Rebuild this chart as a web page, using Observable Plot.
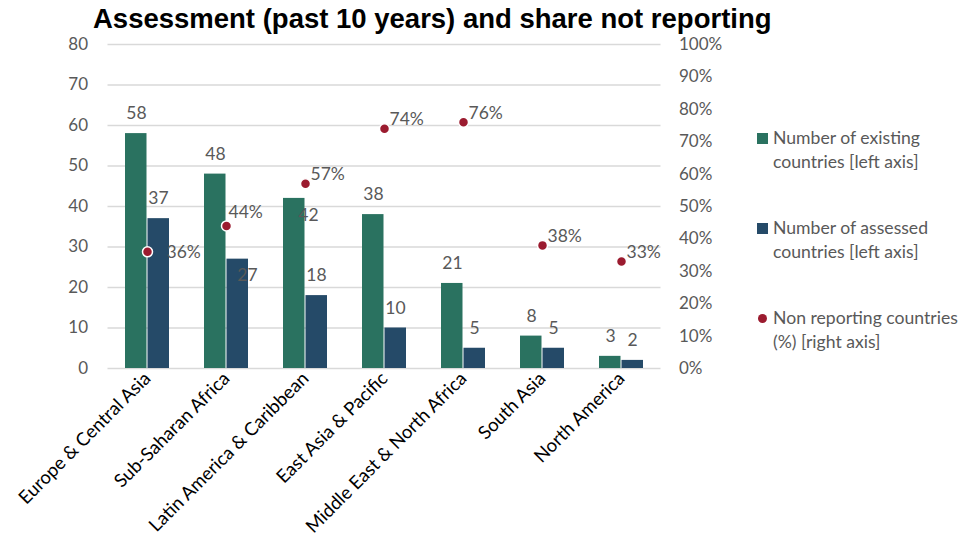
<!DOCTYPE html>
<html>
<head>
<meta charset="utf-8">
<script src="https://cdn.jsdelivr.net/npm/d3@7"></script>
<script src="https://cdn.jsdelivr.net/npm/@observablehq/plot@0.6"></script>
<style>
  html, body { margin: 0; padding: 0; background: #fff; }
  #wrap { position: relative; width: 968px; height: 546px; overflow: hidden; }
  #title { position: absolute; left: 93px; top: 3px; font-family: "Liberation Sans", Arial, sans-serif; font-weight: bold; font-size: 27.5px; color: #000; white-space: nowrap; }
  #legend { position: absolute; left: 757px; top: 126px; font-family: Lato, sans-serif; font-size: 17.6px; color: #595959; line-height: 24px; }
  .item { position: relative; padding-left: 16px; height: 48px; margin-bottom: 42px; white-space: nowrap; }
  .sw { position: absolute; left: 0; top: 7px; width: 11px; height: 11px; }
  .dotsw { position: absolute; left: 1px; top: 8px; width: 9px; height: 9px; border-radius: 50%; }
</style>
</head>
<body>
<div id="wrap">
  <div id="chart"></div>
  <div id="title">Assessment (past 10 years) and share not reporting</div>
  <div id="legend"></div>
</div>
<script>
const categories = ["Europe & Central Asia", "Sub-Saharan Africa", "Latin America & Caribbean", "East Asia & Pacific", "Middle East & North Africa", "South Asia", "North America"];
const existing = [58, 48, 42, 38, 21, 8, 3];
const assessed = [37, 27, 18, 10, 5, 5, 2];
const nonReporting = [36, 44, 57, 74, 76, 38, 33];
const leftTicks = [0, 10, 20, 30, 40, 50, 60, 70, 80];
const rightTicks = [0, 10, 20, 30, 40, 50, 60, 70, 80, 90, 100];
const legendLines = [["Number of existing", "countries [left axis]"], ["Number of assessed", "countries [left axis]"], ["Non reporting countries", "(%) [right axis]"]];

const green = "#2a7260", blue = "#254a68", red = "#9b1b2f", gray = "#595959";
const pctToY = p => p * 0.8;

const rows = categories.map((c, i) => ({c, existing: existing[i], assessed: assessed[i], pct: nonReporting[i]}));

// label placement tweaks (layout only): categories whose labels are displaced
const existingLow = ["Latin America & Caribbean"];
const assessedLow = ["Sub-Saharan Africa"];
const pctSide = ["Europe & Central Asia"];
const pctHigh = ["Sub-Saharan Africa"];
const pctNormal = categories.filter(c => !pctSide.includes(c) && !pctHigh.includes(c));

const txt = {fontSize: 17.5, fill: gray};

const chart = Plot.plot({
  width: 968, height: 546,
  marginTop: 44, marginBottom: 178, marginLeft: 107.5, marginRight: 307.5,
  style: {fontFamily: "Lato, sans-serif", background: "transparent"},
  x: {domain: categories, paddingInner: 0.443, paddingOuter: 0.2215, label: null},
  y: {domain: [0, 80], label: null},
  marks: [
    Plot.gridY(leftTicks, {stroke: "#d9d9d9", strokeOpacity: 1, strokeWidth: 1.5}),
    Plot.axisY(leftTicks, {anchor: "left", tickSize: 0, tickPadding: 20, fontSize: 17, fill: gray, label: null}),
    Plot.axisY(rightTicks.map(pctToY), {anchor: "right", tickSize: 0, tickPadding: 18, fontSize: 17, fill: gray, label: null, textAnchor: "start",
      tickFormat: d => Math.round(d / 0.8) + "%"}),
    Plot.axisX({tickRotate: -45, tickSize: 0, tickPadding: 7, fontSize: 18.5, fill: "#000", label: null}),
    Plot.barY(rows, {x: "c", y: "existing", fill: green, insetRight: 22.5}),
    Plot.barY(rows, {x: "c", y: "assessed", fill: blue, insetLeft: 22.5}),
    Plot.text(rows.filter(d => !existingLow.includes(d.c)), {x: "c", y: "existing", text: d => String(d.existing), ...txt, dx: -11, dy: -20}),
    Plot.text(rows.filter(d => existingLow.includes(d.c)), {x: "c", y: "existing", text: d => String(d.existing), ...txt, dx: 3, dy: 17}),
    Plot.text(rows.filter(d => !assessedLow.includes(d.c)), {x: "c", y: "assessed", text: d => String(d.assessed), ...txt, dx: 11, dy: -20}),
    Plot.text(rows.filter(d => assessedLow.includes(d.c)), {x: "c", y: "assessed", text: d => String(d.assessed), ...txt, dx: 21, dy: 16}),
    Plot.dot(rows, {x: "c", y: d => pctToY(d.pct), r: 5, fill: red, stroke: "#fff", strokeWidth: 1.5}),
    Plot.text(rows.filter(d => pctNormal.includes(d.c)), {x: "c", y: d => pctToY(d.pct), text: d => d.pct + "%", ...txt, textAnchor: "start", dx: 5, dy: -9}),
    Plot.text(rows.filter(d => pctSide.includes(d.c)), {x: "c", y: d => pctToY(d.pct), text: d => d.pct + "%", ...txt, textAnchor: "start", dx: 19, dy: 1}),
    Plot.text(rows.filter(d => pctHigh.includes(d.c)), {x: "c", y: d => pctToY(d.pct), text: d => d.pct + "%", ...txt, textAnchor: "start", dx: 2, dy: -14})
  ]
});
document.getElementById("chart").appendChild(chart);

// legend
const legend = document.getElementById("legend");
const swatches = [green, blue, red];
legendLines.forEach((lines, i) => {
  const item = document.createElement("div");
  item.className = "item";
  const sw = document.createElement("span");
  sw.className = i === 2 ? "dotsw" : "sw";
  sw.style.background = swatches[i];
  item.appendChild(sw);
  item.appendChild(document.createTextNode(lines[0]));
  item.appendChild(document.createElement("br"));
  item.appendChild(document.createTextNode(lines[1]));
  legend.appendChild(item);
});
</script>
</body>
</html>
